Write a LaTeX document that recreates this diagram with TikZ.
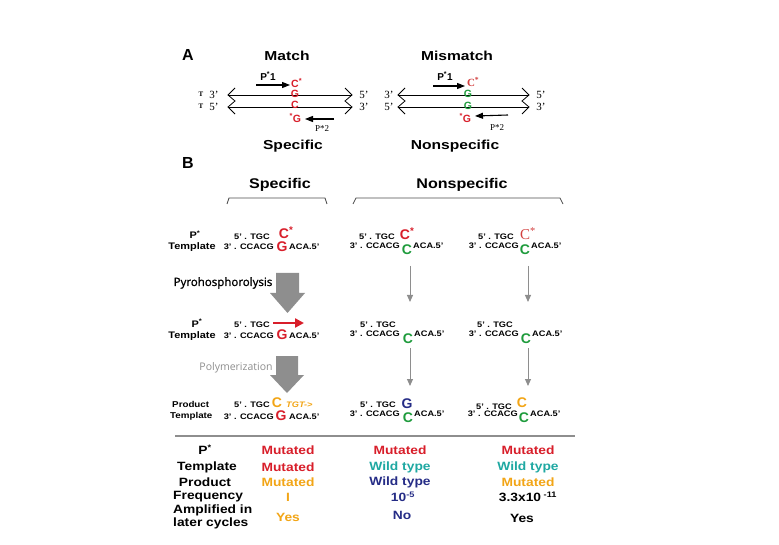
\documentclass[tikz,border=0pt]{standalone}
\usepackage{fontspec}
\setmainfont{Liberation Serif}
\setsansfont{Liberation Sans}
\newfontfamily\osans{Open Sans}
\newfontfamily\osansb[FakeBold=1.2]{Open Sans}
\usetikzlibrary{arrows.meta}
\definecolor{mred}{HTML}{D81E2A}
\definecolor{lred}{HTML}{D2403F}
\definecolor{mgreen}{HTML}{1E9B3C}
\definecolor{morange}{HTML}{F2A516}
\definecolor{mteal}{HTML}{1FA8A2}
\definecolor{mnavy}{HTML}{252C86}
\definecolor{mgrey}{HTML}{8E8E8E}
\newcommand\fs[1]{\fontsize{#1}{#1}\selectfont}
\newcommand\Cs{C\rlap{\textsuperscript{*}}}
\newcommand\sG{\llap{\textsuperscript{*}}G}
\begin{document}
\begin{tikzpicture}[x=1pt,y=-1pt,
  hdr/.style={inner sep=0pt, xscale=1.2, font=\sffamily\bfseries\fs{13}},
  hdrB/.style={inner sep=0pt, xscale=1.15, font=\sffamily\bfseries\fs{14}},
  lett/.style={inner sep=0pt, font=\sffamily\bfseries\fs{10.5}},
  serl/.style={inner sep=0pt, font=\fs{11}},
  seq/.style={inner sep=0pt, xscale=1.15, font=\sffamily\bfseries\fs{8}},
  lab/.style={inner sep=0pt, xscale=1.15, font=\sffamily\bfseries\fs{9.5}},
  big/.style={inner sep=0pt, font=\sffamily\bfseries\fs{14}},
  tab/.style={inner sep=0pt, xscale=1.15, font=\sffamily\bfseries\fs{12}},
  strand/.style={line width=0.8pt},
  blkarrow/.style={line width=1.1pt, -{Triangle[length=8pt,width=6pt]}},
  gar/.style={mgrey, line width=1pt, -{Triangle[length=7pt,width=6pt]}},
  block/.style={fill=mgrey, draw=none}
]
\useasboundingbox (0,0) rectangle (779,545);

% ---------------- Panel A ----------------
\node[inner sep=0pt, font=\sffamily\bfseries\fs{16}] (A) at (188,55) {A};
\node[hdr] (match) at (287,56) {Match};
\node[hdr] (mismatch) at (457,56) {Mismatch};

% left duplex
\draw[strand] (228,95) -- (352,95);
\draw[strand] (228,107) -- (352,107);
\draw[strand] (235,88) -- (228,95) -- (235,101) -- (228,107) -- (235,114);
\draw[strand] (345,88) -- (352,95) -- (345,101) -- (352,107) -- (345,114);
\node[serl] (l3a) at (214,95) {3'};
\node[serl] (l5a) at (214,107) {5'};
\node[inner sep=0pt, font=\bfseries\fs{7}] (t1) at (201,94) {T};
\node[inner sep=0pt, font=\bfseries\fs{7}] (t2) at (201,106) {T};
\node[serl] (r5a) at (364,95) {5'};
\node[serl] (r3a) at (364,107) {3'};
\node[lett, mred] (mC1) at (295,83) {\Cs};
\node[lett, mred] (mG1) at (295,94) {G};
\node[lett, mred] (mC2) at (295,105) {C};
\node[lett, mred] (mG2) at (297,118) {\sG};
\node[inner sep=0pt, font=\sffamily\bfseries\fs{10}] (p1a) at (268,76) {P\textsuperscript{*}1};
\coordinate (p1s) at (256,85); \coordinate (p1e) at (290,85);
\draw[blkarrow] (p1s) -- (p1e);
\coordinate (p2s) at (334,119); \coordinate (p2e) at (305,119);
\draw[blkarrow] (p2s) -- (p2e);
\node[inner sep=0pt, font=\fs{9}] (p2a) at (322,129) {P*2};

% right duplex
\draw[strand] (398,95) -- (529,95);
\draw[strand] (398,107) -- (529,107);
\draw[strand] (405,88) -- (398,95) -- (405,101) -- (398,107) -- (405,114);
\draw[strand] (522,88) -- (529,95) -- (522,101) -- (529,107) -- (522,114);
\node[serl] (l3b) at (389,95) {3'};
\node[serl] (l5b) at (389,107) {5'};
\node[serl] (r5b) at (541,95) {5'};
\node[serl] (r3b) at (541,107) {3'};
\node[inner sep=0pt, font=\bfseries\fs{11}, lred] (nC1) at (471,82) {\Cs};
\node[lett, mgreen] (nG1) at (468,94) {G};
\node[lett, mgreen] (nG2) at (468,106) {G};
\node[lett, mred] (nG3) at (467,118) {\sG};
\node[inner sep=0pt, font=\sffamily\bfseries\fs{10}] (p1b) at (445,76) {P\textsuperscript{*}1};
\coordinate (q1s) at (433,86); \coordinate (q1e) at (465,86);
\draw[blkarrow] (q1s) -- (q1e);
\coordinate (q2s) at (508,115); \coordinate (q2e) at (475,116);
\draw[blkarrow] (q2s) -- (q2e);
\node[inner sep=0pt, font=\fs{9}] (p2b) at (497,128) {P*2};

\node[hdr] (specA) at (293,146) {Specific};
\node[hdr] (nonspecA) at (455,146) {Nonspecific};

% ---------------- Panel B ----------------
\node[inner sep=0pt, font=\sffamily\bfseries\fs{16}] (B) at (188,163) {B};
\node[hdrB] (specB) at (280,185) {Specific};
\node[hdrB] (nonspecB) at (462,185) {Nonspecific};
\draw[black!70, line width=0.8pt] (227,204) -- (229,198) -- (325,198) -- (327,204);
\draw[black!70, line width=0.8pt] (353,204) -- (356,198) -- (560,198) -- (563,204);

% Row 1
\node[lab, anchor=base] (r1P) at (195,239) {P\textsuperscript{*}};
\node[lab, anchor=base] (r1T) at (192,250) {Template};
\node[seq, anchor=base east] (r1a) at (270,240) {5' . TGC};
\node[big, mred, anchor=base] (r1b) at (284,238.5) {\Cs};
\node[seq, anchor=base east] (r1c) at (274,250) {3' . CCACG};
\node[big, mred, anchor=base] (r1d) at (282,251.5) {G};
\node[seq, anchor=base west] (r1e) at (289,250) {ACA.5'};

\node[seq, anchor=base east] (r1f) at (395,240) {5' . TGC};
\node[big, mred, anchor=base] (r1g) at (405,240) {\Cs};
\node[seq, anchor=base east] (r1h) at (400,249) {3' . CCACG};
\node[big, mgreen, anchor=base] (r1i) at (407,255) {C};
\node[seq, anchor=base west] (r1j) at (413,249) {ACA.5'};

\node[seq, anchor=base east] (r1k) at (514,240) {5' . TGC};
\node[inner sep=0pt, font=\fs{15}, lred, anchor=base] (r1l) at (525,240) {\Cs};
\node[seq, anchor=base east] (r1m) at (519,249) {3' . CCACG};
\node[big, mgreen, anchor=base] (r1n) at (525,255) {C};
\node[seq, anchor=base west] (r1o) at (531,249) {ACA.5'};

% arrows row1 -> row2
\node[inner sep=0pt, font=\osansb\fs{11.5}] (pyro) at (223,283) {Pyrohosphorolysis};
\fill[block] (276,273) -- (299,273) -- (299,293) -- (305,293) -- (287.5,313) -- (270,293) -- (276,293) -- cycle;
\coordinate (g1s) at (410,266); \coordinate (g1e) at (410,302);
\coordinate (g2s) at (528,266); \coordinate (g2e) at (528,302);
\draw[gar] (g1s) -- (g1e);
\draw[gar] (g2s) -- (g2e);

% Row 2
\node[lab, anchor=base] (r2P) at (197,327) {P\textsuperscript{*}};
\node[lab, anchor=base] (r2T) at (192,338) {Template};
\node[seq, anchor=base east] (r2a) at (270,327) {5' . TGC};
\coordinate (ras) at (273,323); \coordinate (rae) at (304,323);
\draw[mred, line width=2.6pt, -{Triangle[length=9pt,width=9pt]}] (ras) -- (rae);
\node[seq, anchor=base east] (r2c) at (274,338) {3' . CCACG};
\node[big, mred, anchor=base] (r2d) at (282,339) {G};
\node[seq, anchor=base west] (r2e) at (289,338) {ACA.5'};

\node[seq, anchor=base east] (r2f) at (396,327) {5' . TGC};
\node[seq, anchor=base east] (r2h) at (400,337) {3' . CCACG};
\node[big, mgreen, anchor=base] (r2i) at (408,343) {C};
\node[seq, anchor=base west] (r2j) at (414,337) {ACA.5'};

\node[seq, anchor=base east] (r2k) at (513,327) {5' . TGC};
\node[seq, anchor=base east] (r2m) at (519,337) {3' . CCACG};
\node[big, mgreen, anchor=base] (r2n) at (526,343) {C};
\node[seq, anchor=base west] (r2o) at (532,337) {ACA.5'};

% arrows row2 -> row3
\node[inner sep=0pt, font=\osans\fs{10.5}, mgrey] (poly) at (236,368) {Polymerization};
\fill[block] (276,356) -- (298,356) -- (298,375) -- (304,375) -- (287,393) -- (270,375) -- (276,375) -- cycle;
\coordinate (g3s) at (410,348); \coordinate (g3e) at (410,386);
\coordinate (g4s) at (528,348); \coordinate (g4e) at (528,386);
\draw[gar] (g3s) -- (g3e);
\draw[gar] (g4s) -- (g4e);

% Row 3
\node[lab, font=\sffamily\bfseries\fs{8.5}, anchor=base west] (r3P) at (172,407) {Product};
\node[lab, font=\sffamily\bfseries\fs{8.5}, anchor=base west] (r3T) at (170,418) {Template};
\node[seq, anchor=base east] (r3a) at (270,407) {5' . TGC};
\node[big, morange, anchor=base] (r3b) at (277,407) {C};
\node[seq, font=\sffamily\bfseries\itshape\fs{8}, morange, anchor=base west] (r3g) at (286,407) {TGT->};
\node[seq, anchor=base east] (r3c) at (274,419) {3' . CCACG};
\node[big, mred, anchor=base] (r3d) at (281,420) {G};
\node[seq, anchor=base west] (r3e) at (289,419) {ACA.5'};

\node[seq, anchor=base east] (r3f) at (396,407) {5' . TGC};
\node[big, mnavy, anchor=base] (r3h) at (407,408) {G};
\node[seq, anchor=base east] (r3i) at (400,416) {3' . CCACG};
\node[big, mgreen, anchor=base] (r3j) at (408,422) {C};
\node[seq, anchor=base west] (r3k) at (414,416) {ACA.5'};

\node[seq, anchor=base east] (r3l) at (512,409) {5' . TGC};
\node[big, morange, anchor=base] (r3m) at (522,407) {C};
\node[seq, anchor=base east] (r3n) at (518,416) {3' . CCACG};
\node[big, mgreen, anchor=base] (r3o) at (524,422) {C};
\node[seq, anchor=base west] (r3p) at (530,416) {ACA.5'};

% separator
\draw[mgrey, line width=1.6pt] (175,436) -- (575,436);

% Table
\node[tab] (tP) at (205,450) {P\textsuperscript{*}};
\node[tab] (tT) at (207,467) {Template};
\node[tab] (tPr) at (205,482) {Product};
\node[tab, anchor=west] (tF) at (173,497) {Frequency};
\node[tab, anchor=west] (tA1) at (173,510) {Amplified in};
\node[tab, anchor=west] (tA2) at (173,523) {later cycles};

\node[tab, mred] (c11) at (288,450) {Mutated};
\node[tab, mred] (c12) at (288,467) {Mutated};
\node[tab, morange] (c13) at (288,482) {Mutated};
\node[tab, morange] (c14) at (288,497) {I};
\node[tab, morange] (c15) at (288,517) {Yes};

\node[tab, mred] (c21) at (400,450) {Mutated};
\node[tab, mteal] (c22) at (400,467) {Wild type};
\node[tab, mnavy] (c23) at (400,482) {Wild type};
\node[tab, mnavy] (c24) at (403,497) {10\textsuperscript{-5}};
\node[tab, mnavy] (c25) at (402,515) {No};

\node[tab, mred] (c31) at (528,450) {Mutated};
\node[tab, mteal] (c32) at (528,467) {Wild type};
\node[tab, morange] (c33) at (528,482) {Mutated};
\node[tab] (c34) at (528,497) {3.3x10\textsuperscript{ -11}};
\node[tab] (c35) at (522,518) {Yes};
\end{tikzpicture}
\end{document}
